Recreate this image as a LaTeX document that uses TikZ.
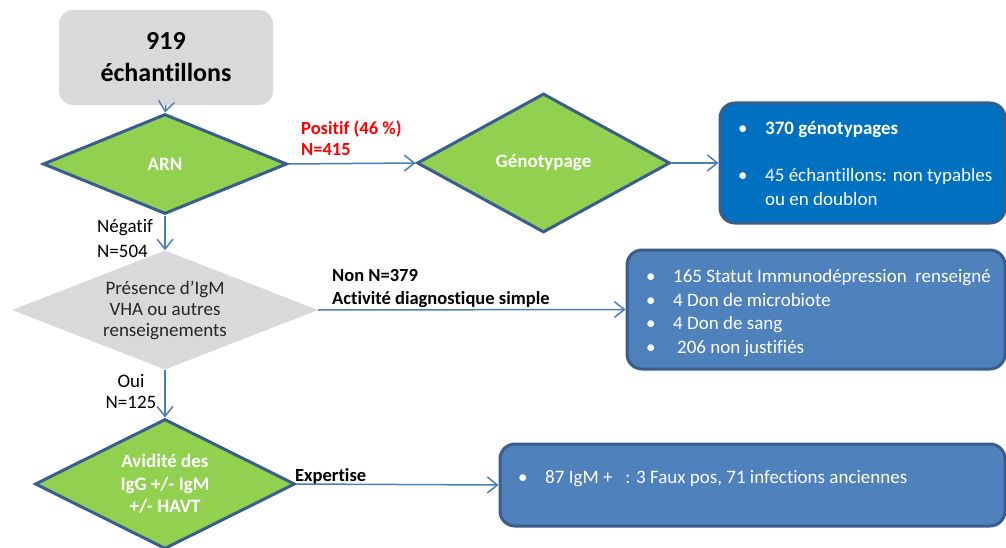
\documentclass[tikz,border=0pt]{standalone}
\usepackage{fontspec}
\setmainfont{Carlito}[Ligatures={NoCommon,NoRare,NoDiscretionary}]
\usetikzlibrary{shapes.geometric,arrows.meta}
\definecolor{lineblue}{HTML}{4A7EBB}
\definecolor{dborder}{HTML}{3B5C8F}
\definecolor{dgreen}{HTML}{92D050}
\definecolor{lgray}{HTML}{D9D9D9}
\definecolor{boxblueA}{HTML}{0070C0}
\definecolor{boxblueB}{HTML}{4F81BD}
\definecolor{boxborder}{HTML}{385D8A}
\definecolor{tred}{HTML}{FF0000}
\definecolor{tdark}{HTML}{262626}
\tikzset{
  greendec/.style={diamond, draw=dborder, line width=3pt, fill=dgreen, inner sep=0pt,
    text=white, align=center, font=\bfseries\fontsize{19}{22.5}\selectfont},
  graydec/.style={diamond, fill=lgray, inner sep=0pt, text=tdark, align=center,
    font=\fontsize{19}{21}\selectfont},
  startbox/.style={rectangle, rounded corners=14pt, fill=lgray, align=center,
    font=\bfseries\fontsize{26}{32}\selectfont, text=black},
  resbox/.style={rectangle, rounded corners=15pt, draw=boxborder, line width=3pt},
  bul/.style={anchor=base west, text=white, font=\fontsize{19}{23}\selectfont, inner sep=0pt},
  lab/.style={anchor=base west, text=black, font=\fontsize{19}{23}\selectfont, inner sep=0pt},
  blab/.style={anchor=base west, text=black, font=\bfseries\fontsize{18.5}{23}\selectfont, inner sep=0pt},
  rlab/.style={anchor=base west, text=tred, font=\bfseries\fontsize{18.5}{23}\selectfont, inner sep=0pt},
  arr/.style={draw=lineblue, line width=1.5pt, -{Straight Barb[length=10pt,width=16pt]}}
}
\begin{document}
\begin{tikzpicture}[x=1pt,y=-1pt]
\useasboundingbox (0,0) rectangle (1006,548);
\clip (0,0) rectangle (1006,548);

% nodes
\node[startbox, minimum width=214pt, minimum height=95pt] (start) at (166,57.5) {919\\échantillons};
\node[greendec, shape aspect=2.44, minimum width=244pt, minimum height=100pt] (arn) at (165,164) {ARN};
\node[greendec, shape aspect=1.8, minimum width=253pt, minimum height=139pt] (geno) at (543.5,163) {Génotypage};
\node[graydec, shape aspect=2.55, minimum width=306pt, minimum height=119pt] (pres) at (165,310)
  {Présence d’IgM\\VHA ou autres\\renseignements};
\node[greendec, shape aspect=2, minimum width=260pt, minimum height=130pt] (avid) at (165,484)
  {Avidité des\\IgG +/- IgM\\+/- HAVT};

\node[resbox, fill=boxblueA, draw=boxborder, minimum width=285pt, minimum height=120pt] (res1) at (862.5,163) {};
\node[resbox, fill=boxblueB, minimum width=378pt, minimum height=119pt] (res2) at (816,309.5) {};
\node[resbox, fill=boxblueB, minimum width=505pt, minimum height=82pt] (res3) at (752.5,485) {};

% box texts
\node[bul] (b1a) at (738,135) {•};
\node[bul, font=\bfseries\fontsize{19}{23}\selectfont] (t1a) at (765,135) {370 génotypages};
\node[bul] (b1b) at (738,182) {•};
\node[bul] (t1b) at (765,182) {45 échantillons: non typables};
\node[bul] (t1c) at (765,205) {ou en doublon};

\node[bul] (b2a) at (646,282) {•};
\node[bul] (t2a) at (673,282) {165 Statut Immunodépression\ \ renseigné};
\node[bul] (b2b) at (646,306) {•};
\node[bul] (t2b) at (673,306) {4 Don de microbiote};
\node[bul] (b2c) at (646,329) {•};
\node[bul] (t2c) at (673,329) {4 Don de sang};
\node[bul] (b2d) at (646,353) {•};
\node[bul] (t2d) at (677,353) {206 non justifiés};

\node[bul] (b3a) at (518,483) {•};
\node[bul] (t3a) at (545,483) {87 IgM +\ \ \ : 3 Faux pos, 71 infections anciennes};

% connector labels
\node[rlab] (lpos1) at (301,135) {Positif (46 \%)};
\node[rlab] (lpos2) at (301,156) {N=415};
\node[lab] (lneg1) at (97,233) {Négatif};
\node[lab] (lneg2) at (97,257) {N=504};
\node[blab] (lnon1) at (332,281) {Non N=379};
\node[blab] (lnon2) at (332,304) {Activité diagnostique simple};
\node[lab, anchor=base] (loui1) at (131,387) {Oui};
\node[lab, anchor=base] (loui2) at (131,408) {N=125};
\node[blab] (lexp) at (295,481) {Expertise};

% connectors
\draw[arr] (start.south) -- (arn.north);
\draw[arr] (arn.east) -- (geno.west);
\draw[arr] (geno.east) -- (res1.west);
\draw[arr] (arn.south) -- (pres.north);
\draw[arr] (pres.east) -- (res2.west);
\draw[arr] (pres.south) -- (avid.north);
\draw[arr] (avid.east) -- (res3.west);
\end{tikzpicture}
\end{document}
